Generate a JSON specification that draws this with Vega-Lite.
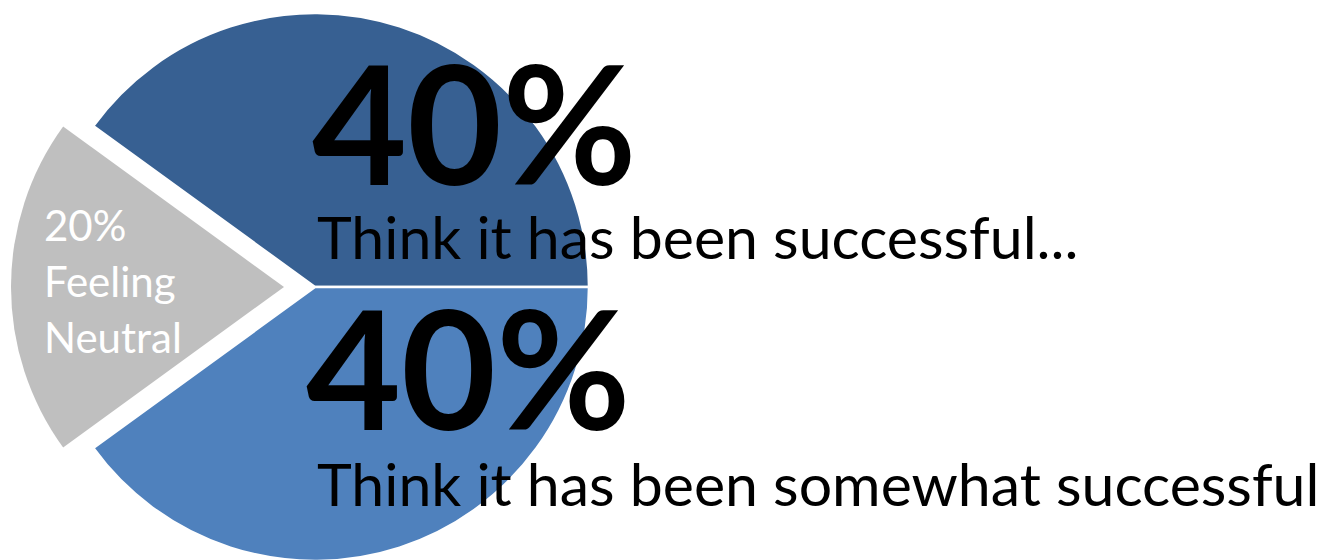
{
  "$schema": "https://vega.github.io/schema/vega-lite/v6.json",
  "width": 630,
  "height": 552,
  "padding": {"top": 8, "left": 0, "right": 0, "bottom": 0},
  "autosize": {"type": "pad"},
  "background": "white",
  "config": {"view": {"stroke": null}},
  "data": {
    "values": [
      {"cat": "Think it has been successful...", "pct": "40%", "value": 40, "rank": 1, "lines": ["40%"]},
      {"cat": "Think it has been somewhat successful", "pct": "40%", "value": 40, "rank": 2, "lines": ["40%"]},
      {"cat": "Feeling Neutral", "pct": "20%", "value": 20, "rank": 3, "lines": ["20%", "Feeling", "Neutral"]}
    ]
  },
  "layer": [
    {
      "mark": {"type": "arc", "outerRadius": 274, "stroke": "white", "strokeWidth": 2.5},
      "encoding": {
        "theta": {"field": "value", "type": "quantitative", "stack": true, "scale": {"range": [-0.9425, 5.3407]}},
        "order": {"field": "rank", "type": "quantitative"},
        "color": {"field": "cat", "type": "nominal", "legend": null,
          "scale": {"domain": ["Think it has been successful...", "Think it has been somewhat successful", "Feeling Neutral"], "range": ["#376092", "#4F81BD", "#BFBFBF"]}},
        "opacity": {"condition": {"test": "datum.rank == 3", "value": 0}, "value": 1}
      }
    },
    {
      "mark": {"type": "arc", "outerRadius": 273, "xOffset": -31},
      "encoding": {
        "theta": {"field": "value", "type": "quantitative", "stack": true},
        "order": {"field": "rank", "type": "quantitative"},
        "color": {"field": "cat", "type": "nominal", "legend": null},
        "opacity": {"condition": {"test": "datum.rank == 3", "value": 1}, "value": 0}
      }
    },
    {
      "transform": [{"filter": "datum.rank == 3"}],
      "mark": {"type": "text", "align": "left", "baseline": "alphabetic", "font": "Lato", "fontSize": 42, "lineHeight": 56, "dx": -271, "dy": -46, "color": "white"},
      "encoding": {"text": {"field": "lines"}}
    },
    {
      "transform": [{"filter": "datum.rank == 1"}],
      "mark": {"type": "text", "align": "left", "baseline": "alphabetic", "font": "Lato", "fontWeight": "bold", "fontSize": 164, "dx": -3, "dy": -102, "color": "black"},
      "encoding": {"text": {"field": "pct"}}
    },
    {
      "transform": [{"filter": "datum.rank == 1"}],
      "mark": {"type": "text", "align": "left", "baseline": "alphabetic", "font": "Lato", "fontSize": 59, "dx": 2, "dy": -28, "color": "black"},
      "encoding": {"text": {"field": "cat"}}
    },
    {
      "transform": [{"filter": "datum.rank == 2"}],
      "mark": {"type": "text", "align": "left", "baseline": "alphabetic", "font": "Lato", "fontWeight": "bold", "fontSize": 164, "dx": -9, "dy": 143, "color": "black"},
      "encoding": {"text": {"field": "pct"}}
    },
    {
      "transform": [{"filter": "datum.rank == 2"}],
      "mark": {"type": "text", "align": "left", "baseline": "alphabetic", "font": "Lato", "fontSize": 59, "dx": 2, "dy": 219, "color": "black"},
      "encoding": {"text": {"field": "cat"}}
    }
  ]
}
